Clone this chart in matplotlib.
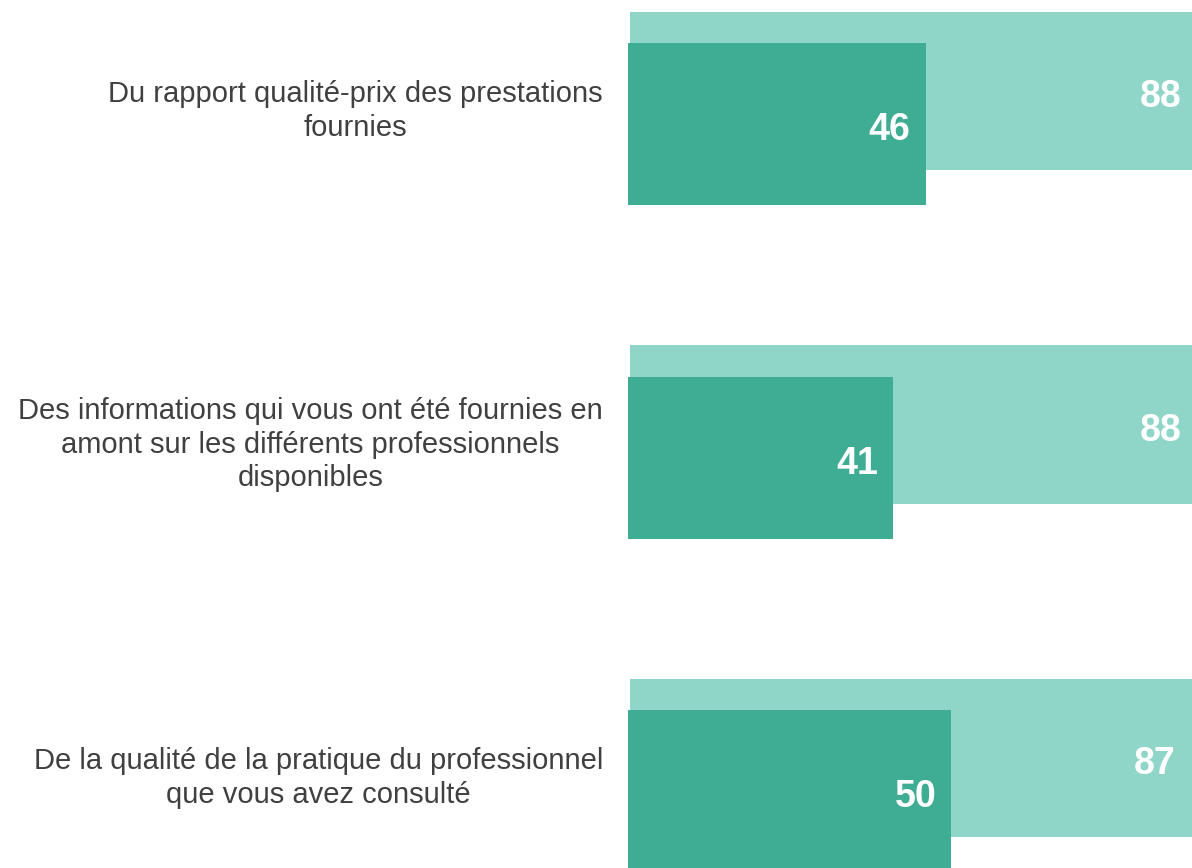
import matplotlib
matplotlib.use("Agg")
import matplotlib.pyplot as plt
import numpy as np

plt.rcParams['font.family'] = ['Liberation Sans', 'Arial', 'DejaVu Sans']

categories = [
    "Du rapport qualité-prix des prestations\nfournies",
    "Des informations qui vous ont été fournies en\namont sur les différents professionnels\ndisponibles",
    "De la qualité de la pratique du professionnel\nque vous avez consulté",
]
total_values = [88, 88, 87]
sub_values = [46, 41, 50]

light_color = "#8FD6C8"
dark_color = "#3EAD93"
text_color = "#404040"

fig = plt.figure(figsize=(11.92, 8.68), dpi=100)
ax = fig.add_axes([628 / 1192, 0, 564 / 1192, 1])
ax.set_xlim(0, 87.2)
ax.set_ylim(2.280, -0.3223)
ax.axis('off')

y = np.arange(len(categories))
d = 0.0495
ax.barh(y - d, total_values, height=0.474, color=light_color, left=0.3, zorder=1)
ax.barh(y + d, sub_values, height=0.486, color=dark_color, zorder=2)

for i, (t, s) in enumerate(zip(total_values, sub_values)):
    ax.annotate(str(t), xy=(t, i - d), xytext=(-11, -4.5), textcoords='offset points',
                ha='right', va='center', color='white', fontsize=27, fontweight='bold',
                zorder=3, annotation_clip=False)
    ax.annotate(str(s), xy=(s, i + d), xytext=(-11, -4.5), textcoords='offset points',
                ha='right', va='center', color='white', fontsize=27, fontweight='bold',
                zorder=3, annotation_clip=False)
    ax.annotate(categories[i], xy=(0, i), xytext=(-18, -2.5), textcoords='offset points',
                ha='right', va='center', multialignment='center', color=text_color,
                fontsize=21, linespacing=1.27, annotation_clip=False)

fig.savefig("out.png", dpi=100)
